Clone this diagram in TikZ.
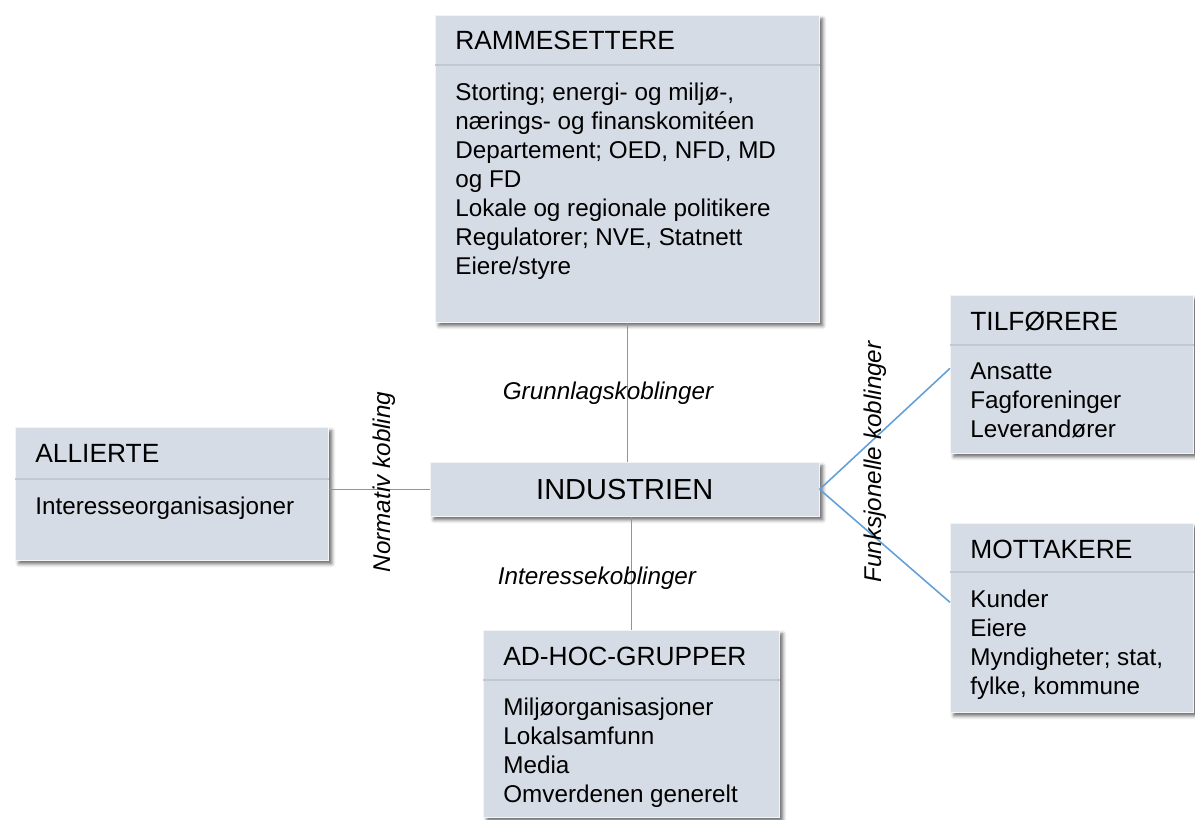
\documentclass[tikz,border=0pt]{standalone}
\usepackage{fontspec}
\setmainfont{Liberation Sans}
\usetikzlibrary{shadows.blur}

\definecolor{boksfarge}{RGB}{214,220,229}
\definecolor{skillefarge}{RGB}{192,200,212}
\definecolor{linjefarge}{RGB}{100,160,215}

\begin{document}
\begin{tikzpicture}[x=0.02cm,y=-0.02cm,
    boks/.style={rectangle, anchor=north west, fill=boksfarge, draw=white!70!boksfarge,
        line width=0.4pt, inner sep=0pt,
        blur shadow={shadow xshift=2pt, shadow yshift=-2pt, shadow blur radius=2pt, shadow opacity=60}},
    tittel/.style={anchor=base west, inner sep=0pt, font=\fontsize{15}{16.5}\selectfont},
    liste/.style={anchor=north west, inner sep=0pt, align=left, font=\fontsize{13.8}{16.5}\selectfont},
    skille/.style={draw=skillefarge, line width=0.8pt},
    kobling/.style={draw=linjefarge, line width=0.9pt},
    etikett/.style={inner sep=1pt, font=\itshape\fontsize{13.8}{16}\selectfont}]
    \useasboundingbox (0,0) rectangle (1195,819);

    % bokser
    \node[boks, minimum width=7.68cm, minimum height=6.14cm] (ramme) at (435,15) {};
    \node[boks, minimum width=6.26cm, minimum height=2.66cm] (allierte) at (15,427) {};
    \node[boks, minimum width=7.78cm, minimum height=1.08cm] (industri) at (430,462) {};
    \node[boks, minimum width=4.86cm, minimum height=3.16cm] (tilforere) at (950,295) {};
    \node[boks, minimum width=4.86cm, minimum height=3.78cm] (mottakere) at (950,523) {};
    \node[boks, minimum width=5.92cm, minimum height=3.74cm] (adhoc) at (483,630) {};

    % skillelinjer
    \draw[skille] ([yshift=-1cm]ramme.north west) -- ([yshift=-1cm]ramme.north east);
    \draw[skille] ([yshift=-1.04cm]allierte.north west) -- ([yshift=-1.04cm]allierte.north east);
    \draw[skille] ([yshift=-1cm]tilforere.north west) -- ([yshift=-1cm]tilforere.north east);
    \draw[skille] ([yshift=-0.98cm]mottakere.north west) -- ([yshift=-0.98cm]mottakere.north east);
    \draw[skille] ([yshift=-1cm]adhoc.north west) -- ([yshift=-1cm]adhoc.north east);

    % tekster
    \node[tittel] (ramme-tittel) at ([xshift=0.4cm,yshift=-0.7cm]ramme.north west) {RAMMESETTERE};
    \node[liste] (ramme-liste) at ([xshift=0.4cm,yshift=-1.35cm]ramme.north west)
        {Storting; energi- og miljø-,\\ nærings- og finanskomitéen\\ Departement; OED, NFD, MD\\ og FD\\
         Lokale og regionale politikere\\ Regulatorer; NVE, Statnett\\ Eiere/styre};
    \node[tittel] (allierte-tittel) at ([xshift=0.4cm,yshift=-0.7cm]allierte.north west) {ALLIERTE};
    \node[liste] (allierte-liste) at ([xshift=0.4cm,yshift=-1.39cm]allierte.north west) {Interesseorganisasjoner};
    \node[font=\fontsize{16.5}{19}\selectfont] (industri-tittel) at (industri.center) {INDUSTRIEN};
    \node[tittel] (tilforere-tittel) at ([xshift=0.4cm,yshift=-0.7cm]tilforere.north west) {TILFØRERE};
    \node[liste] (tilforere-liste) at ([xshift=0.4cm,yshift=-1.35cm]tilforere.north west)
        {Ansatte\\ Fagforeninger\\ Leverandører};
    \node[tittel] (mottakere-tittel) at ([xshift=0.4cm,yshift=-0.7cm]mottakere.north west) {MOTTAKERE};
    \node[liste] (mottakere-liste) at ([xshift=0.4cm,yshift=-1.33cm]mottakere.north west)
        {Kunder\\ Eiere\\ Myndigheter; stat,\\ fylke, kommune};
    \node[tittel] (adhoc-tittel) at ([xshift=0.4cm,yshift=-0.7cm]adhoc.north west) {AD-HOC-GRUPPER};
    \node[liste] (adhoc-liste) at ([xshift=0.4cm,yshift=-1.35cm]adhoc.north west)
        {Miljøorganisasjoner\\ Lokalsamfunn\\ Media\\ Omverdenen generelt};

    % koblinger
    \draw[kobling] (ramme.south) -- (ramme.south |- industri.north);
    \draw[kobling] (adhoc.north |- industri.south) -- (adhoc.north);
    \draw[kobling] (allierte.east |- industri.west) -- (industri.west);
    \draw[kobling] (industri.east) -- ([yshift=0.12cm]tilforere.west);
    \draw[kobling] (industri.east) -- ([yshift=0.31cm]mottakere.west);

    \node[etikett] (grunnlag) at (608,393) {Grunnlagskoblinger};
    \node[etikett] (interesse) at (597,578) {Interessekoblinger};
    \node[etikett, rotate=90] (normativ) at (384,482) {Normativ kobling};
    \node[etikett, rotate=90] (funksjonell) at (875,462) {Funksjonelle koblinger};
\end{tikzpicture}
\end{document}
